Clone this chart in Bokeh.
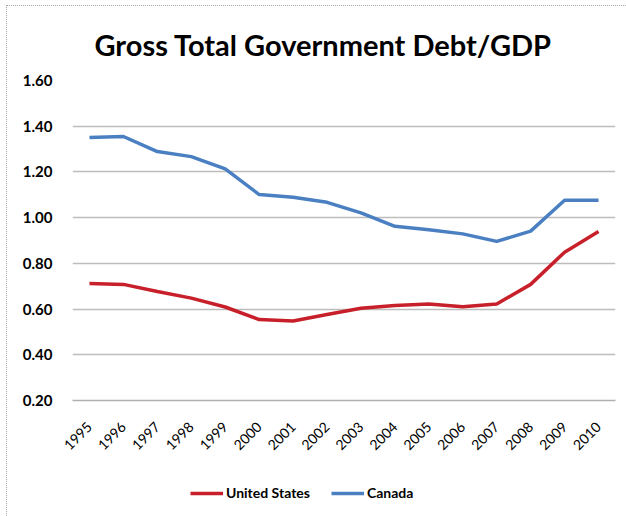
import math
from bokeh.plotting import figure
from bokeh.layouts import column
from bokeh.models import Legend, LegendItem, Range1d, FactorRange, FixedTicker, NumeralTickFormatter
from bokeh.embed import file_html
from bokeh.resources import INLINE

years = [str(y) for y in range(1995, 2011)]
united_states = [0.712, 0.708, 0.677, 0.648, 0.609, 0.554, 0.548, 0.576,
                 0.604, 0.616, 0.622, 0.610, 0.622, 0.708, 0.849, 0.939]
canada = [1.351, 1.355, 1.289, 1.267, 1.213, 1.101, 1.089, 1.067,
          1.021, 0.962, 0.947, 0.929, 0.896, 0.941, 1.076, 1.076]
y_ticks = [0.2, 0.4, 0.6, 0.8, 1.0, 1.2, 1.4, 1.6]
title_text = "Gross Total Government Debt/GDP"
series_names = ["United States", "Canada"]
series_colors = ["#c8202b", "#4a80c2"]

FONT = "Lato"

p = figure(width=619, height=464, output_backend="svg", toolbar_location=None,
           x_range=FactorRange(*years, range_padding=0),
           y_range=Range1d(0.2, 1.6),
           min_border_left=65, min_border_right=11, min_border_top=74, min_border_bottom=70)

p.title.text = title_text
p.title.text_font = FONT
p.title.text_font_size = "29px"
p.title.text_font_style = "bold"
p.title.align = "left"
p.title.offset = 22
p.title.standoff = 37
p.title.text_color = "black"

p.outline_line_color = None
p.background_fill_color = "white"
p.border_fill_color = "white"

p.xgrid.grid_line_color = None
p.ygrid.grid_line_color = "#bdbdbd"
p.ygrid.grid_line_width = 1.5
p.yaxis.ticker = FixedTicker(ticks=y_ticks)
p.yaxis.formatter = NumeralTickFormatter(format="0.00")
p.yaxis.axis_line_color = None
p.yaxis.major_tick_line_color = None
p.yaxis.minor_tick_line_color = None
p.yaxis.major_label_text_font = FONT
p.yaxis.major_label_text_font_style = "bold"
p.yaxis.major_label_text_font_size = "15px"
p.yaxis.major_label_text_color = "black"
p.yaxis.major_label_standoff = 14

p.xaxis.axis_line_color = "#b0b0b0"
p.xaxis.axis_line_width = 1.5
p.xaxis.major_tick_line_color = None
p.xaxis.minor_tick_line_color = None
p.xaxis.major_label_orientation = math.pi / 4
p.xaxis.major_label_text_font = FONT
p.xaxis.major_label_text_font_size = "14px"
p.xaxis.major_label_text_color = "black"
p.xaxis.major_label_standoff = 18

p.line(years, united_states, line_color=series_colors[0], line_width=3.5)
p.line(years, canada, line_color=series_colors[1], line_width=3.5)

# legend strip below the chart (its frame is aligned with the chart's frame)
p2 = figure(width=619, height=46, output_backend="svg", toolbar_location=None,
            x_range=Range1d(0, 1), y_range=Range1d(0, 1),
            min_border_left=65, min_border_right=11, min_border_top=0, min_border_bottom=0)
p2.axis.visible = False
p2.grid.visible = False
p2.outline_line_color = None
p2.border_fill_color = "white"
l_us = p2.line([5, 6], [5, 6], line_color=series_colors[0], line_width=3.5)
l_ca = p2.line([5, 6], [5, 6], line_color=series_colors[1], line_width=3.5)
legend = Legend(items=[LegendItem(label=series_names[0], renderers=[l_us]),
                       LegendItem(label=series_names[1], renderers=[l_ca])],
                orientation="horizontal", location=(118, 15), margin=0,
                border_line_color=None, background_fill_alpha=0,
                glyph_width=33, glyph_height=16, label_height=16,
                label_standoff=3, spacing=21, padding=0,
                label_text_font=FONT, label_text_font_style="bold",
                label_text_font_size="14px", label_text_color="black")
p2.add_layout(legend)

layout = column(p, p2, spacing=0,
                styles={"margin-left": "6px", "margin-top": "5px",
                        "border-left": "1px dotted #a8a8a8",
                        "border-top": "1px dotted #a8a8a8"})
open("out.html", "w").write(file_html(layout, INLINE))
